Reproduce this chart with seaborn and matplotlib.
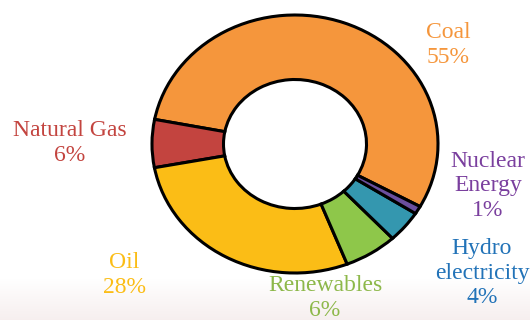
import numpy as np
import matplotlib
matplotlib.use('Agg')
import matplotlib.pyplot as plt
import seaborn as sns

# data
sources = ['Coal', 'Natural Gas', 'Oil', 'Renewables', 'Hydro\nelectricity', 'Nuclear\nEnergy']
shares = [55, 6, 28, 6, 4, 1]
wedge_colors = ['#F5963C', '#C3443F', '#FBBD16', '#8EC74A', '#3497AF', '#6B4F9E']
text_colors = ['#F5963C', '#C3443F', '#FBBD16', '#8DB84A', '#2273B8', '#7A3F9E']
# label centres in pixels (x, y from top)
label_pos = [(448, 45), (70, 143), (124, 275), (325, 298), (482, 273), (488, 186)]

sns.set_theme(style='white')
plt.rcParams['font.family'] = 'serif'
plt.rcParams['font.serif'] = ['Liberation Serif', 'Times New Roman', 'Nimbus Roman', 'DejaVu Serif']

W, H = 530, 320
fig = plt.figure(figsize=(W / 100, H / 100), dpi=100)

# faint washed-out background at the bottom
bg = fig.add_axes([0, 0, 1, 1], zorder=0)
grad = np.ones((H, 1, 3))
fade = np.clip((np.arange(H) - 278) / 42.0, 0, 1)[:, None]
tint = np.array([0.965, 0.935, 0.935])
grad = grad * (1 - fade[..., None]) + tint * fade[..., None]
bg.imshow(grad, aspect='auto', extent=[0, 1, 0, 1])
bg.axis('off')

ax = fig.add_axes([152 / W, 1 - 273 / H, 286 / W, 258 / H], zorder=1)
ax.pie(shares, colors=wedge_colors, startangle=-29, counterclock=True,
       wedgeprops=dict(width=0.5, edgecolor='black', linewidth=2.2))
ax.set_aspect('auto')
ax.set_xlim(-1.0, 1.0)
ax.set_ylim(-1.0, 1.0)
ax.axis('off')

for name, val, col, (px, py) in zip(sources, shares, text_colors, label_pos):
    fig.text(px / W, 1 - py / H, f'{name}\n{val}%', color=col, fontsize=17,
             ha='center', va='center', linespacing=1.2, zorder=3)

fig.savefig('out.png', dpi=100)
